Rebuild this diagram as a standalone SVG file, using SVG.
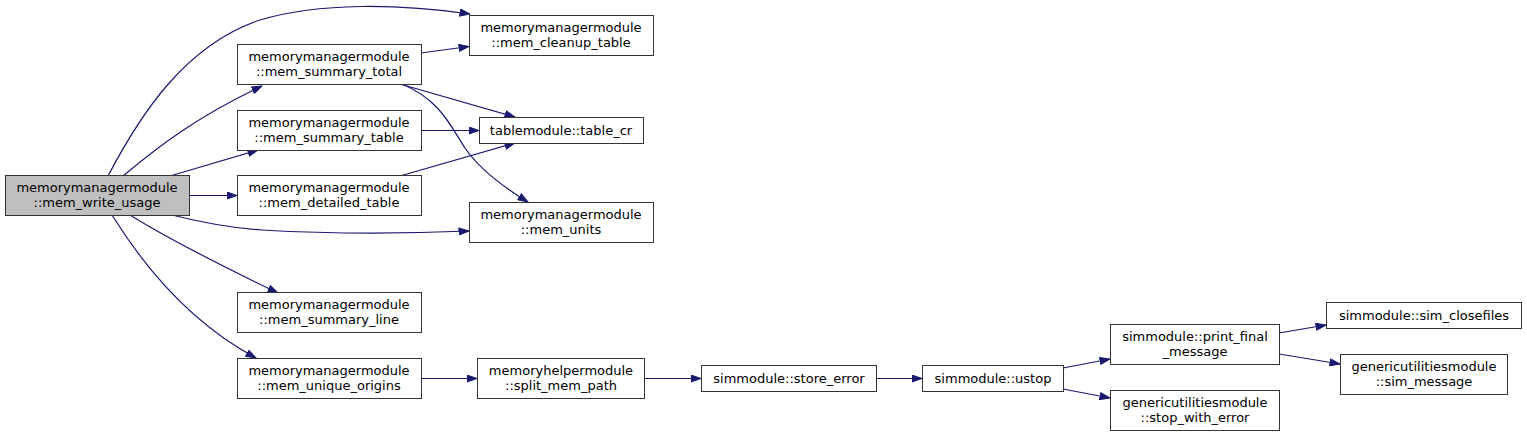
<svg xmlns="http://www.w3.org/2000/svg" width="1527" height="436" viewBox="0 0 1527 436">
<style>
.box{fill:#fff;stroke:#333;stroke-width:1}
.main{fill:#bfbfbf;stroke:#333;stroke-width:1}
text{font-family:"DejaVu Sans",sans-serif;font-size:13px;fill:#000;text-anchor:middle}
.e{fill:none;stroke:#191970;stroke-width:1.2;marker-end:url(#arr)}
</style>
<defs>
<marker id="arr" markerUnits="userSpaceOnUse" viewBox="0 0 11 8" refX="10.5" refY="4" markerWidth="11" markerHeight="8" orient="auto">
<path d="M0.5,0.5 L10.5,4 L0.5,7.5 Z" fill="#191970" stroke="#191970" stroke-width="1"/>
</marker>
</defs>
<rect width="1527" height="436" fill="#fff"/>
<g id="edges">
<path class="e" d="M108,176 C140,115 185,45 260,20 C320,2 400,4 470,14"/>
<path class="e" d="M123,176 C160,145 200,115 262,86"/>
<path class="e" d="M170,176 L258,150"/>
<path class="e" d="M189,195.5 L237,195.5"/>
<path class="e" d="M172,215 C200,222 230,228 262,230 C330,234 400,234 469,231"/>
<path class="e" d="M130,215 C170,240 220,265 278,293"/>
<path class="e" d="M112,215 C140,260 185,320 256,358"/>
<path class="e" d="M421,53 L469,46.5"/>
<path class="e" d="M400,84 L515,117"/>
<path class="e" d="M402,84 C440,100 450,125 465,148 C480,170 505,188 528,202"/>
<path class="e" d="M421,130.5 L479,130.5"/>
<path class="e" d="M400,176 L515,143"/>
<path class="e" d="M421,378.5 L477,378.5"/>
<path class="e" d="M644,378.5 L701,378.5"/>
<path class="e" d="M876,378.5 L922,378.5"/>
<path class="e" d="M1063,368 L1110,359"/>
<path class="e" d="M1063,389 L1110,398"/>
<path class="e" d="M1279,333 L1326,325"/>
<path class="e" d="M1279,354 L1340,364"/>
</g>
<g id="mem_write_usage"><rect class="main" x="5.5" y="175.5" width="184" height="40"/><text x="97" y="192">memorymanagermodule</text><text x="97" y="207">::mem_write_usage</text></g>
<g id="mem_summary_total"><rect class="box" x="237.5" y="44.5" width="184" height="40"/><text x="329" y="61">memorymanagermodule</text><text x="329" y="76">::mem_summary_total</text></g>
<g id="mem_summary_table"><rect class="box" x="237.5" y="110.5" width="184" height="40"/><text x="329" y="127">memorymanagermodule</text><text x="329" y="142">::mem_summary_table</text></g>
<g id="mem_detailed_table"><rect class="box" x="237.5" y="175.5" width="184" height="40"/><text x="329" y="192">memorymanagermodule</text><text x="329" y="207">::mem_detailed_table</text></g>
<g id="mem_summary_line"><rect class="box" x="237.5" y="292.5" width="184" height="40"/><text x="329" y="309">memorymanagermodule</text><text x="329" y="324">::mem_summary_line</text></g>
<g id="mem_unique_origins"><rect class="box" x="237.5" y="358.5" width="184" height="40"/><text x="329" y="375">memorymanagermodule</text><text x="329" y="390">::mem_unique_origins</text></g>
<g id="mem_cleanup_table"><rect class="box" x="469.5" y="15.5" width="184" height="40"/><text x="561" y="32">memorymanagermodule</text><text x="561" y="47">::mem_cleanup_table</text></g>
<g id="table_cr"><rect class="box" x="479.5" y="117.5" width="164" height="26"/><text x="561" y="135">tablemodule::table_cr</text></g>
<g id="mem_units"><rect class="box" x="469.5" y="202.5" width="184" height="40"/><text x="561" y="219">memorymanagermodule</text><text x="561" y="234">::mem_units</text></g>
<g id="split_mem_path"><rect class="box" x="477.5" y="358.5" width="167" height="40"/><text x="561" y="375">memoryhelpermodule</text><text x="561" y="390">::split_mem_path</text></g>
<g id="store_error"><rect class="box" x="701.5" y="365.5" width="175" height="26"/><text x="789" y="383">simmodule::store_error</text></g>
<g id="ustop"><rect class="box" x="922.5" y="365.5" width="141" height="26"/><text x="993" y="383">simmodule::ustop</text></g>
<g id="print_final_message"><rect class="box" x="1110.5" y="324.5" width="169" height="40"/><text x="1195" y="341">simmodule::print_final</text><text x="1195" y="356">_message</text></g>
<g id="stop_with_error"><rect class="box" x="1110.5" y="390.5" width="169" height="40"/><text x="1195" y="407">genericutilitiesmodule</text><text x="1195" y="422">::stop_with_error</text></g>
<g id="sim_closefiles"><rect class="box" x="1326.5" y="302.5" width="195" height="26"/><text x="1424" y="320">simmodule::sim_closefiles</text></g>
<g id="sim_message"><rect class="box" x="1340.5" y="354.5" width="167" height="40"/><text x="1424" y="371">genericutilitiesmodule</text><text x="1424" y="386">::sim_message</text></g>
</svg>
